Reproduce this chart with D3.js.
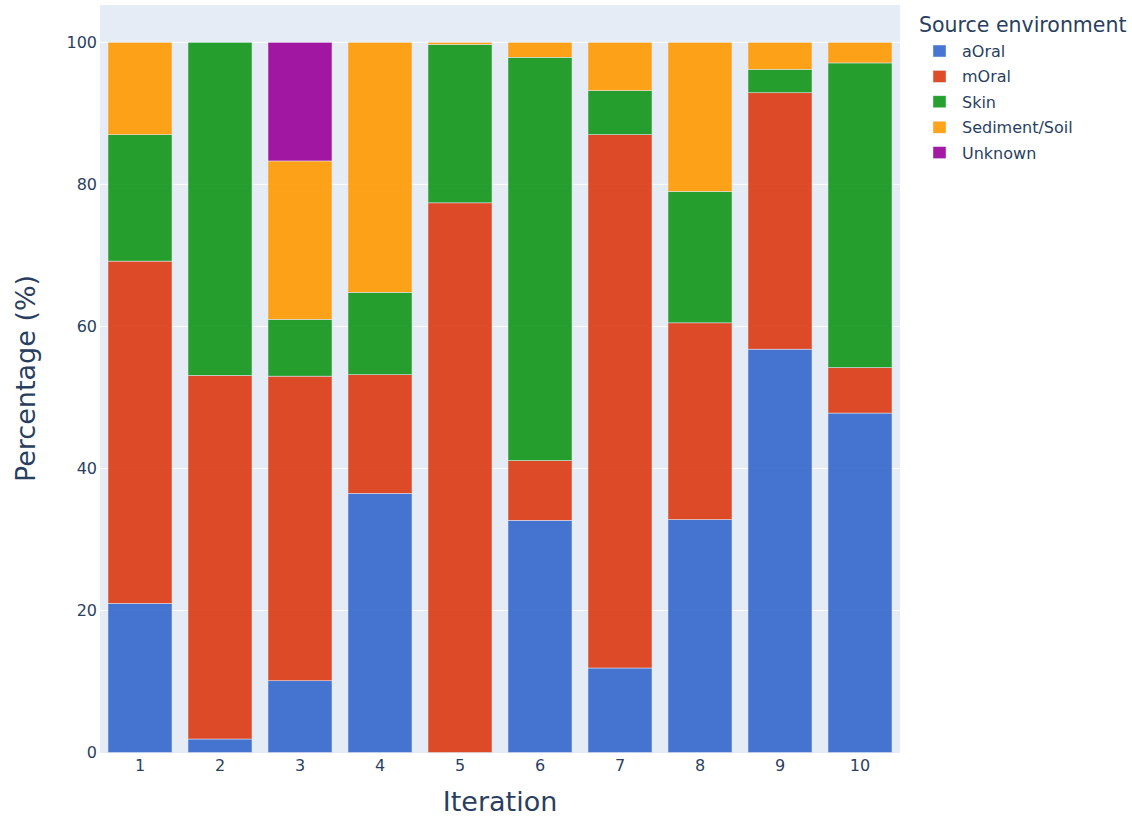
<!DOCTYPE html>
<html>
<head>
<meta charset="utf-8">
<script src="https://cdn.jsdelivr.net/npm/d3@7"></script>
<style>
  html, body { margin: 0; padding: 0; background: #fff; }
  svg { display: block; font-family: "DejaVu Sans", sans-serif; }
</style>
</head>
<body>
<svg id="chart" width="1132" height="816"></svg>
<script>
// ---- Data ----
const iterations = ["1", "2", "3", "4", "5", "6", "7", "8", "9", "10"];
const seriesNames = ["aOral", "mOral", "Skin", "Sediment/Soil", "Unknown"];
const aOral    = [21.0, 1.9, 10.1, 36.5, 0.0, 32.7, 11.9, 32.8, 56.8, 47.8];
const mOral    = [48.2, 51.2, 42.9, 16.7, 77.4, 8.4, 75.1, 27.7, 36.1, 6.4];
const skin     = [17.8, 46.9, 8.0, 11.6, 22.3, 56.8, 6.2, 18.5, 3.3, 42.9];
const sediment = [13.0, 0.0, 22.3, 35.2, 0.3, 2.1, 6.8, 21.0, 3.8, 2.9];
const unknown  = [0.0, 0.0, 16.7, 0.0, 0.0, 0.0, 0.0, 0.0, 0.0, 0.0];
const yTicks = [0, 20, 40, 60, 80, 100];
const colors = ["#3366CC", "#DC3912", "#109618", "#FF9900", "#990099"];

// ---- Build table ----
const seriesValues = [aOral, mOral, skin, sediment, unknown];
const rows = iterations.map((it, i) => {
  const r = { iteration: it };
  seriesNames.forEach((s, k) => r[s] = seriesValues[k][i]);
  return r;
});

const svg = d3.select("#chart");
const margin = { left: 100, right: 232, top: 5, bottom: 64 };
const W = 1132, H = 816;
const plotW = W - margin.left - margin.right;
const plotH = H - margin.top - margin.bottom;
const textColor = "#2a3f5f";

const x = d3.scaleBand().domain(iterations).range([margin.left, margin.left + plotW]).paddingInner(0.2).paddingOuter(0.1);
const y = d3.scaleLinear().domain([0, 105.26]).range([margin.top + plotH + 0.5, margin.top]);

// background
svg.append("rect")
  .attr("x", margin.left).attr("y", margin.top)
  .attr("width", plotW).attr("height", plotH + 1)
  .attr("fill", "#E5ECF6");

// gridlines
svg.append("g").selectAll("line").data(yTicks.filter(d => d > 0)).join("line")
  .attr("x1", margin.left).attr("x2", margin.left + plotW)
  .attr("y1", d => y(d)).attr("y2", d => y(d))
  .attr("stroke", "#fff").attr("stroke-width", 1);

// stacked bars
const stack = d3.stack().keys(seriesNames);
const stacked = stack(rows);
const cmap = d3.scaleOrdinal().domain(seriesNames).range(colors);

svg.append("g").selectAll("g").data(stacked).join("g")
  .attr("fill", d => cmap(d.key))
  .attr("fill-opacity", 0.9)
  .selectAll("rect").data(d => d.filter(p => p[1] - p[0] > 0)).join("rect")
  .attr("x", d => x(d.data.iteration))
  .attr("width", x.bandwidth())
  .attr("y", d => y(d[1]))
  .attr("height", d => y(d[0]) - y(d[1]))
  .attr("stroke", "#E5ECF6")
  .attr("stroke-width", 0.5);

// y axis labels
const yAxis = d3.axisLeft(y).tickValues(yTicks).tickSize(0).tickPadding(3);
const yg = svg.append("g").attr("transform", `translate(${margin.left},0)`).call(yAxis);
yg.select(".domain").remove();
yg.selectAll("text").attr("font-size", 16).attr("fill", textColor)
  .attr("font-family", "DejaVu Sans, sans-serif");

// x axis labels
const xAxis = d3.axisBottom(x).tickSize(0).tickPadding(8);
const xg = svg.append("g").attr("transform", `translate(0,${margin.top + plotH})`).call(xAxis);
xg.select(".domain").remove();
xg.selectAll("text").attr("font-size", 16).attr("fill", textColor)
  .attr("font-family", "DejaVu Sans, sans-serif");

// axis titles
svg.append("text")
  .attr("x", margin.left + plotW / 2).attr("y", 811)
  .attr("text-anchor", "middle").attr("font-size", 27).attr("fill", textColor)
  .text("Iteration");
svg.append("text")
  .attr("transform", `translate(35,${margin.top + plotH / 2}) rotate(-90)`)
  .attr("text-anchor", "middle").attr("font-size", 27).attr("fill", textColor)
  .text("Percentage (%)");

// legend
const lg = svg.append("g");
lg.append("text").attr("x", 919).attr("y", 32)
  .attr("font-size", 20.5).attr("fill", textColor).text("Source environment");
const items = lg.selectAll("g.item").data(seriesNames).join("g").attr("class", "item")
  .attr("transform", (d, i) => `translate(0,${57 + i * 25.4})`);
items.append("rect").attr("x", 933).attr("y", -12).attr("width", 13).attr("height", 12)
  .attr("fill", d => cmap(d)).attr("fill-opacity", 0.9)
  .attr("stroke", "#E5ECF6").attr("stroke-width", 0.5);
items.append("text").attr("x", 962).attr("y", 0)
  .attr("font-size", 16).attr("fill", textColor).text(d => d);
</script>
</body>
</html>
